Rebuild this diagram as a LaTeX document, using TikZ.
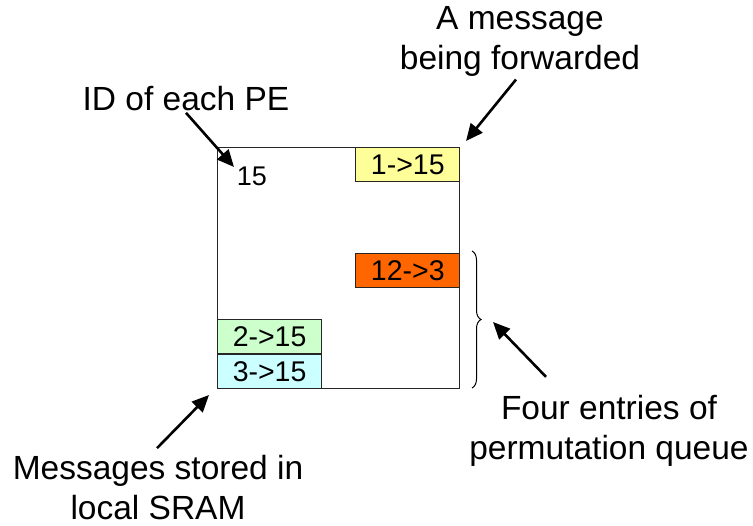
\documentclass[tikz,border=0pt]{standalone}
\usepackage{fontspec}
\setmainfont{Liberation Sans}
\usetikzlibrary{arrows.meta, positioning, calc, decorations.pathreplacing}
\definecolor{fwdyellow}{HTML}{FFFF99}
\definecolor{queueorange}{HTML}{FF6600}
\definecolor{sramgreen}{HTML}{CCFFCC}
\definecolor{sramcyan}{HTML}{CCFFFF}

\begin{document}
\begin{tikzpicture}[x=1pt, y=-1pt, >=Triangle]
    % Styles
    \tikzstyle{pe} = [rectangle, draw=black!85, line width=1.4pt, minimum width=242pt, minimum height=241pt, inner sep=0pt]
    \tikzstyle{entry} = [rectangle, draw=black!85, line width=1.2pt, minimum width=104pt, minimum height=34pt, inner sep=0pt, font=\fontsize{28.5}{30}\selectfont]
    \tikzstyle{note} = [align=center, font=\fontsize{33.5}{40}\selectfont]
    \tikzstyle{arrow} = [draw, -{Triangle[length=17pt, width=15pt]}, line width=2.6pt]

    \useasboundingbox (0,0) rectangle (753,526);

    % Nodes
    \node[pe, anchor=north west] (pe) at (217,147) {};
    \node[entry, fill=fwdyellow, anchor=north east] (fwd) at (pe.north east) {1->15};
    \node[entry, fill=queueorange, below=71pt of fwd] (q12) {12->3};
    \node[entry, fill=sramcyan, anchor=south west] (m3) at (pe.south west) {3->15};
    \node[entry, fill=sramgreen, above=0pt of m3] (m2) {2->15};
    \node[font=\fontsize{27}{30}\selectfont] (id) at (252,176) {15};

    \node[note] (idlbl) at (186,99) {ID of each PE};
    \node[note] (fwdlbl) at (520,41) {A message\\being forwarded};
    \node[note] (qlbl) at (609,431) {Four entries of\\permutation queue};
    \node[note] (sramlbl) at (158,488) {Messages stored in\\local SRAM};

    \coordinate (idtip) at (234,167);
    \coordinate (fwdtip) at (466,141);
    \coordinate (qtip) at (493,322);
    \coordinate (sramtip) at (209,395);

    % Brace
    \draw[decorate, decoration={brace, amplitude=9pt}, line width=1pt] (472,251) -- (472,388);

    % Edges
    \draw[arrow] ($(idlbl.south)+(0,-2)$) -- (idtip);
    \draw[arrow] ($(fwdlbl.south)+(-4,0)$) -- (fwdtip);
    \draw[arrow] ($(qlbl.north)+(-63,-15)$) -- (qtip);
    \draw[arrow] ($(sramlbl.north)+(-1,-4)$) -- (sramtip);

\end{tikzpicture}
\end{document}
